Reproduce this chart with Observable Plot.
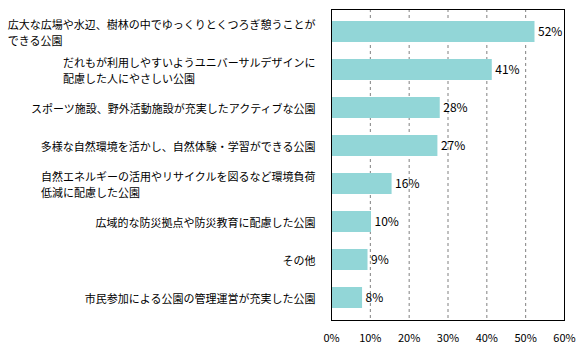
<!DOCTYPE html>
<html>
<head>
<meta charset="utf-8">
<script src="https://cdn.jsdelivr.net/npm/d3@7"></script>
<script src="https://cdn.jsdelivr.net/npm/@observablehq/plot@0.6"></script>
<style>
  html, body { margin: 0; padding: 0; background: #fff; }
</style>
</head>
<body>
<div id="chart"></div>
<script>
const categories = [
  "広大な広場や水辺、樹林の中でゆっくりとくつろぎ憩うことが\nできる公園",
  "だれもが利用しやすいようユニバーサルデザインに\n配慮した人にやさしい公園",
  "スポーツ施設、野外活動施設が充実したアクティブな公園",
  "多様な自然環境を活かし、自然体験・学習ができる公園",
  "自然エネルギーの活用やリサイクルを図るなど環境負荷\n低減に配慮した公園",
  "広域的な防災拠点や防災教育に配慮した公園",
  "その他",
  "市民参加による公園の管理運営が充実した公園"
];
const values = [52.4, 41.4, 28.0, 27.4, 15.6, 10.3, 9.4, 8.0];
const valueLabels = ["52%", "41%", "28%", "27%", "16%", "10%", "9%", "8%"];
const xTicks = [0, 10, 20, 30, 40, 50, 60];
const gridTicks = [10, 20, 30, 40, 50];

const data = categories.map((c, i) => ({category: c, value: values[i], label: valueLabels[i]}));

const plot = Plot.plot({
  width: 580,
  height: 356,
  marginLeft: 331,
  marginRight: 16,
  marginTop: 9,
  marginBottom: 36,
  style: {fontFamily: "'Noto Sans CJK JP', sans-serif", fontSize: "11px", color: "#000", background: "#fff"},
  x: {domain: [0, 60], ticks: xTicks, label: null},
  y: {domain: categories, paddingInner: 0.44, paddingOuter: 0.22, label: null, axis: null},
  marks: [
    Plot.ruleX(gridTicks, {stroke: "#808080", strokeDasharray: "3,3", strokeWidth: 1}),
    Plot.barX(data, {x: "value", y: "category", fill: "#92d6d7"}),
    Plot.text(data, {x: "value", y: "category", text: "label", textAnchor: "start", dx: 3, fontSize: 12, fill: "#000"}),
    Plot.text(data, {y: "category", text: "category", frameAnchor: "left", textAnchor: "end", dx: -16, lineHeight: 1.46, fontSize: 11, fill: "#000", lineWidth: 100, className: "catlabels"}),
    Plot.axisX({ticks: xTicks, tickFormat: d => d + "%", tickSize: 0, tickPadding: 14, fontSize: 11, label: null}),
    Plot.frame({stroke: "#000", strokeWidth: 1})
  ]
});
document.getElementById("chart").appendChild(plot);

// left-align multi-line labels within a right-aligned block
plot.querySelectorAll(".catlabels text").forEach(t => {
  const spans = t.querySelectorAll("tspan");
  if (spans.length > 1) {
    const w = t.getBBox().width;
    t.setAttribute("text-anchor", "start");
    spans.forEach(s => s.setAttribute("x", -w));
  }
});
</script>
</body>
</html>
